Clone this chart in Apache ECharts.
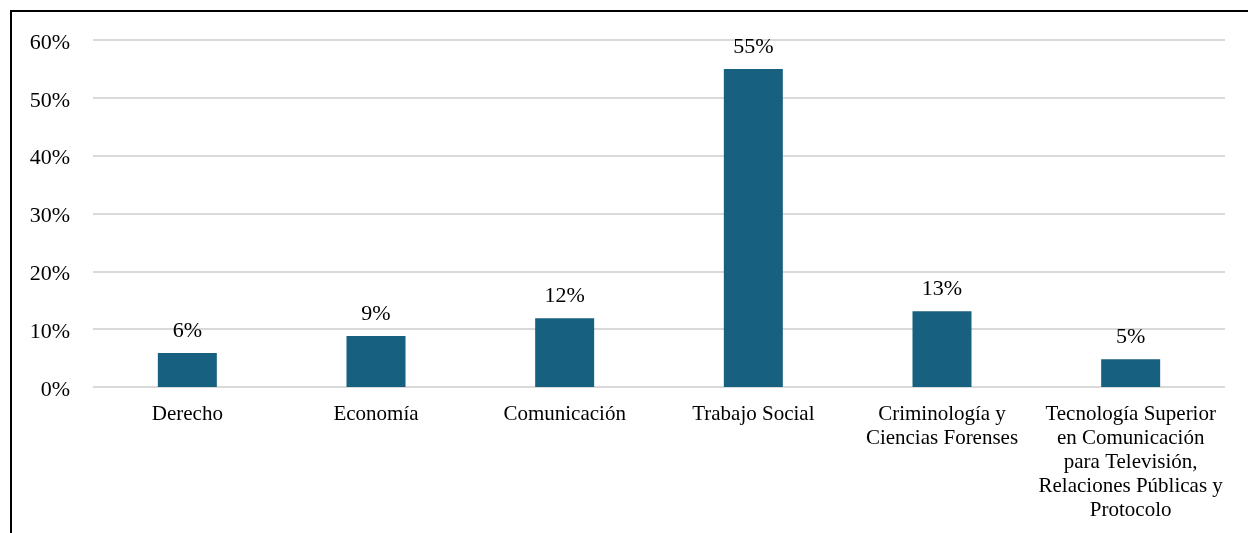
<!DOCTYPE html>
<html><head><meta charset="utf-8">
<script src="https://cdn.jsdelivr.net/npm/echarts@6/dist/echarts.min.js"></script>
<style>
html,body{margin:0;padding:0;background:#fff;}
#c{width:1248px;height:533px;position:absolute;left:0;top:0;}
#frame{position:absolute;left:10px;top:10px;width:1300px;height:600px;border-top:2px solid #000;border-left:2px solid #000;pointer-events:none;}
</style></head>
<body>
<div id="c"></div>
<div id="frame"></div>
<script>
const categories = ["Derecho","Economía","Comunicación","Trabajo Social","Criminología y\nCiencias Forenses","Tecnología Superior\nen Comunicación\npara Televisión,\nRelaciones Públicas y\nProtocolo"];
const values = [5.9, 8.8, 11.9, 55.0, 13.1, 4.8];
const yTicks = [0,10,20,30,40,50,60];

const chart = echarts.init(document.getElementById('c'));
const font = "'Liberation Serif','Times New Roman',serif";
chart.setOption({
  animation:false,
  grid:{left:93,right:23,top:40,bottom:146},
  xAxis:{type:'category',data:categories,
    axisLine:{show:false},axisTick:{show:false},
    axisLabel:{interval:0,color:'#000',fontFamily:font,fontSize:21,lineHeight:24,margin:15}},
  yAxis:{type:'value',min:yTicks[0],max:yTicks[yTicks.length-1],interval:10,
    axisLabel:{formatter:'{a|{value}%}',margin:23,
      rich:{a:{color:'#000',fontFamily:font,fontSize:22,padding:[6,0,0,0]}}},
    splitLine:{lineStyle:{color:'#d9d9d9',width:2}},axisLine:{show:false},axisTick:{show:false}},
  series:[{type:'bar',data:values,barWidth:59,itemStyle:{color:'#17607f'},
    label:{show:true,position:'top',distance:11,color:'#000',fontFamily:font,fontSize:22,
      formatter:p=>Math.round(p.value)+'%'}}]
});
</script>
</body></html>
